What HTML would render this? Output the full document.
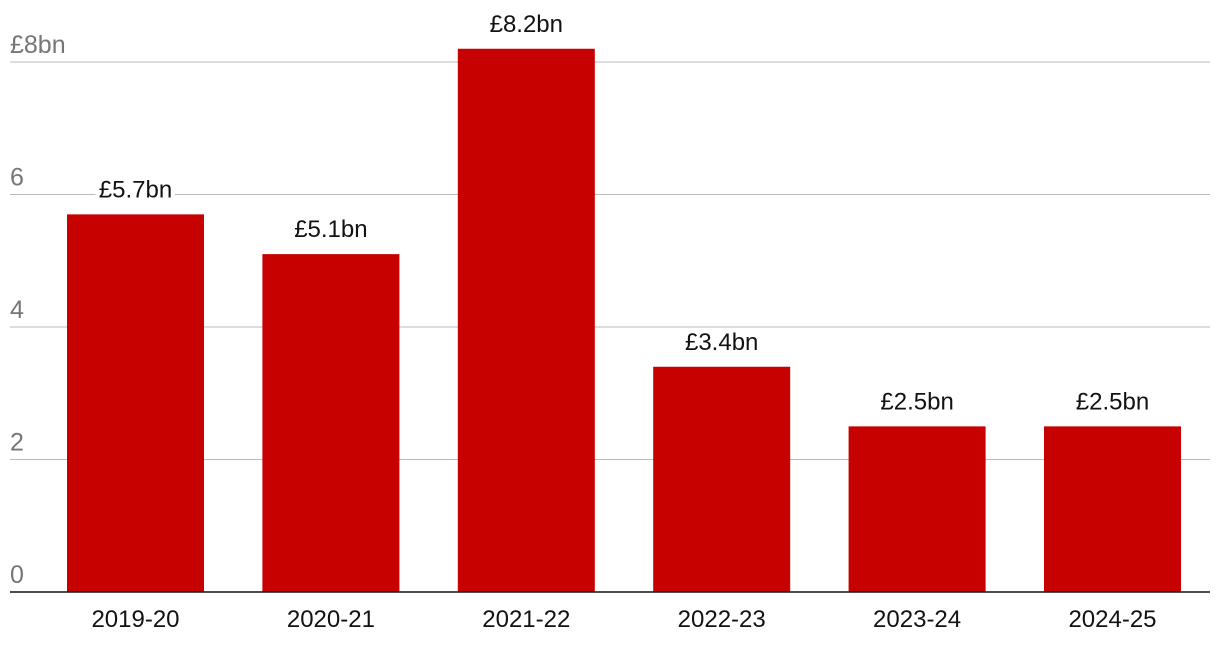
<!DOCTYPE html>
<html><head><meta charset="utf-8"><style>
body{margin:0;background:#fff;}
svg{display:block;font-family:"Liberation Sans",sans-serif;}
</style></head><body>
<svg id="chart" width="1220" height="652"></svg>
<script>
const categories=["2019-20","2020-21","2021-22","2022-23","2023-24","2024-25"];
const values=[5.7,5.1,8.2,3.4,2.5,2.5];
const valueLabels=["£5.7bn","£5.1bn","£8.2bn","£3.4bn","£2.5bn","£2.5bn"];
const ticks=[0,2,4,6,8];
const tickLabels=["0","2","4","6","£8bn"];
const NS="http://www.w3.org/2000/svg";
const svg=document.getElementById('chart');
const x0=37.8,band=195.4,barW=137,left=10,right=1210;
const y=v=>592-v*66.25;
const xc=i=>x0+band*(i+0.5);
function mk(t,a,txt){const e=document.createElementNS(NS,t);for(const k in a)e.setAttribute(k,a[k]);if(txt!=null)e.textContent=txt;svg.appendChild(e);return e;}
ticks.forEach((t,i)=>{
  if(t!==0){const g=mk('line',{x1:left,x2:right,y1:y(t),y2:y(t),stroke:'#bbbbbb','stroke-width':1});
  
  }
  const l=mk('text',{x:left,y:y(t)-9,'font-size':25,fill:'#767676'},tickLabels[i]);
  
  
});
values.forEach((v,i)=>{
  const r=mk('rect',{x:xc(i)-barW/2,y:y(v),width:barW,height:592-y(v),fill:'#c70000'});
  
  
  const tx=mk('text',{x:xc(i),y:y(v)-17,'font-size':24,fill:'#121212','text-anchor':'middle',stroke:'#fff','stroke-width':8,'paint-order':'stroke'},valueLabels[i]);
  
  
  const c=mk('text',{x:xc(i),y:627,'font-size':24,fill:'#121212','text-anchor':'middle'},categories[i]);
  
  
});
const ax=mk('line',{x1:left,x2:right,y1:592,y2:592,stroke:'#121212','stroke-width':1.5});


</script>
</body></html>
